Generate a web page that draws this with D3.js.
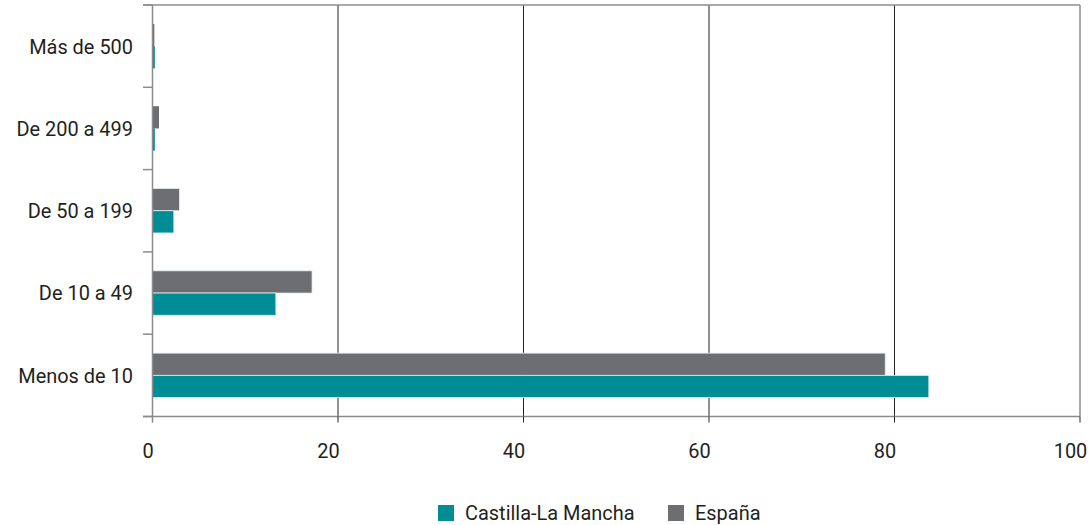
<!DOCTYPE html>
<html><head><meta charset="utf-8">
<script src="https://cdn.jsdelivr.net/npm/d3@7"></script>
<style>
body{margin:0;background:#fff;}
text{font-family:"Roboto","Liberation Sans",sans-serif;fill:#231f20;}
</style></head><body>
<svg id="c" width="1092" height="525"></svg>
<script>
const categories = ["Más de 500","De 200 a 499","De 50 a 199","De 10 a 49","Menos de 10"];
const seriesNames = ["España","Castilla-La Mancha"];
const espana = [0.2, 0.7, 2.9, 17.2, 79.0];
const clm = [0.25, 0.25, 2.3, 13.3, 83.7];
const xTicks = [0,20,40,60,80,100];
const colors = {"España":"#6d6e71","Castilla-La Mancha":"#008c95"};

const svg = d3.select("#c");
const L = 152.5, R = 1080, T = 5, B = 416.5;
const FS = 21, SX = 0.95;
const x = d3.scaleLinear().domain([0,100]).range([L,R]);
const y = d3.scaleBand().domain(categories).range([T,B]).paddingInner(0.46).paddingOuter(0.23);
const sub = d3.scaleBand().domain(seriesNames).range([0,y.bandwidth()]);

function label(g, tx, ty, str, anchor){
  g.append("g").attr("transform",`translate(${tx},${ty}) scale(${SX},1)`)
   .append("text").attr("dy","0.35em").attr("text-anchor",anchor).attr("font-size",FS).text(str);
}

// gridlines
svg.append("g").selectAll("line").data(xTicks.slice(1)).join("line")
  .attr("x1",d=>x(d)).attr("x2",d=>x(d)).attr("y1",T).attr("y2",B)
  .attr("stroke",d=>d===100?"#555":"#222").attr("stroke-width",1);
// top border
svg.append("line").attr("x1",143).attr("x2",R).attr("y1",T).attr("y2",T).attr("stroke","#8c8c8c").attr("stroke-width",1.5);

// bars
const data = [];
categories.forEach((c,i)=>{
  data.push({cat:c,s:"España",v:espana[i]});
  data.push({cat:c,s:"Castilla-La Mancha",v:clm[i]});
});
svg.append("g").selectAll("rect").data(data).join("rect")
  .attr("x",x(0)).attr("y",d=>y(d.cat)+sub(d.s))
  .attr("width",d=>x(d.v)-x(0)).attr("height",sub.bandwidth())
  .attr("fill",d=>colors[d.s]).attr("stroke",d=>d.v<1?"none":"#e6eef0").attr("stroke-width",0.8);

// y axis
const yTickPos = d3.range(categories.length+1).map(i=>T+(B-T)*i/categories.length);
svg.append("g").selectAll("line").data(yTickPos).join("line")
  .attr("x1",143).attr("x2",L).attr("y1",d=>d).attr("y2",d=>d)
  .attr("stroke","#8c8c8c").attr("stroke-width",1.5);
svg.append("line").attr("x1",L).attr("x2",L).attr("y1",T).attr("y2",B+6).attr("stroke","#8c8c8c").attr("stroke-width",1.5);
const yl = svg.append("g");
categories.forEach(c=>label(yl,133,y(c)+y.bandwidth()/2,c,"end"));

// x axis
svg.append("line").attr("x1",143).attr("x2",R).attr("y1",B).attr("y2",B).attr("stroke","#8c8c8c").attr("stroke-width",1.5);
svg.append("g").selectAll("line").data(xTicks).join("line")
  .attr("x1",d=>x(d)).attr("x2",d=>x(d)).attr("y1",B).attr("y2",B+6)
  .attr("stroke",d=>d===0?"#8c8c8c":"#222").attr("stroke-width",1);
const xl = svg.append("g");
xTicks.forEach(d=>label(xl, x(d)+(d===0?-4.5:-9.5), 451, d, "middle"));

// legend
const leg = [{s:"Castilla-La Mancha",x:438},{s:"España",x:668}];
const lg = svg.append("g");
leg.forEach(d=>{
  lg.append("rect").attr("x",d.x).attr("y",505).attr("width",16).attr("height",16).attr("fill",colors[d.s]);
  label(lg, d.x+27, 513, d.s, "start");
});
</script></body></html>
